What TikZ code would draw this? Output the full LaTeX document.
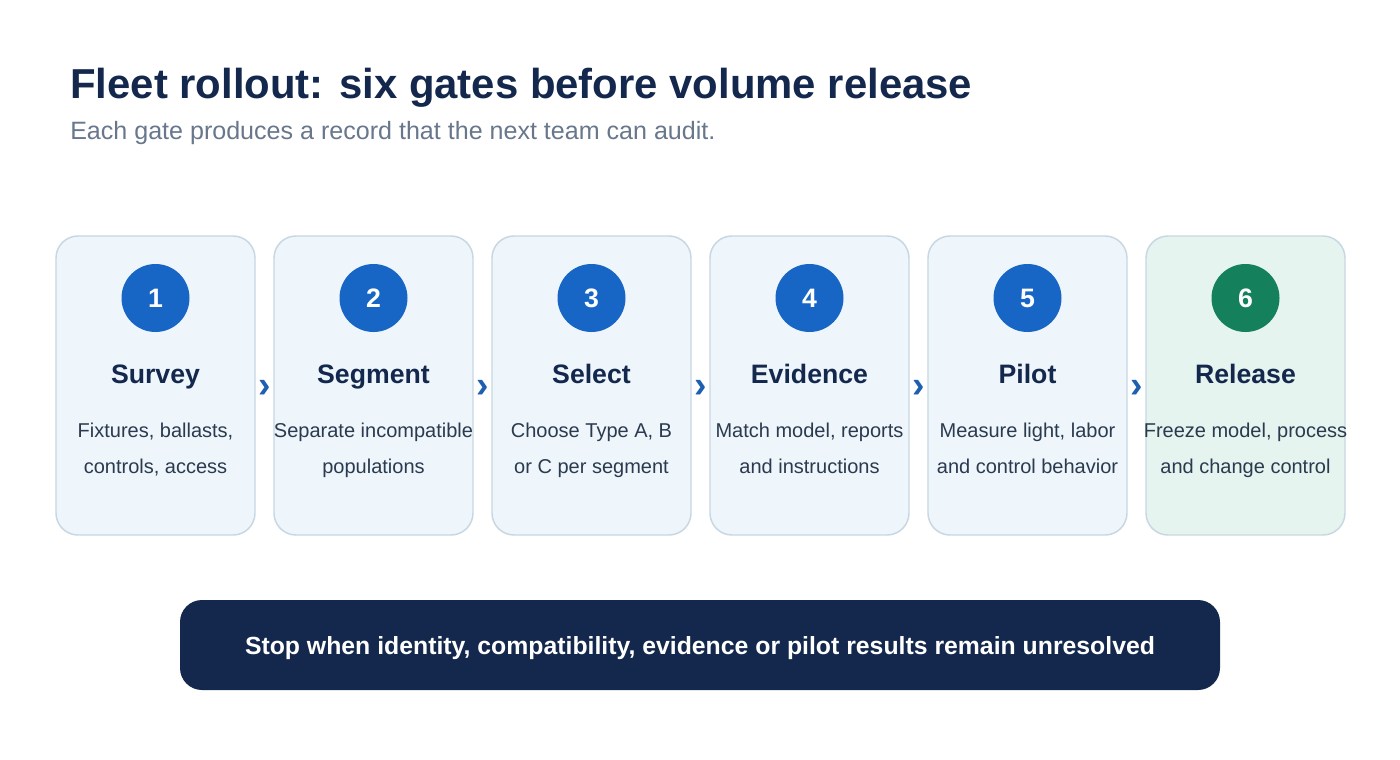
\documentclass[tikz,border=0pt]{standalone}
\usepackage{fontspec}
\setmainfont{Liberation Sans}
\definecolor{navy}{HTML}{13284C}
\definecolor{subgray}{HTML}{68778C}
\definecolor{bodytext}{HTML}{2A3A4F}
\definecolor{gatefill}{HTML}{EEF5FB}
\definecolor{gatedraw}{HTML}{C7D7E3}
\definecolor{relfill}{HTML}{E5F4EE}
\definecolor{numblue}{HTML}{1766C6}
\definecolor{numgreen}{HTML}{14805C}
\definecolor{chevblue}{HTML}{1F5FB0}
\tikzset{
  gate/.style={draw=gatedraw,fill=gatefill,line width=1.1pt,rounded corners=16.5pt,
    minimum width=149.25pt,minimum height=224.25pt,inner sep=0pt},
  num/.style={circle,fill=numblue,minimum size=51pt,inner sep=0pt,text=white,
    font=\bfseries\fontsize{20}{24}\selectfont},
  gtitle/.style={anchor=base,text=navy,inner sep=0pt,font=\bfseries\fontsize{20}{24}\selectfont},
  gtext/.style={anchor=base,text=bodytext,inner sep=0pt,font=\fontsize{15}{18}\selectfont},
  chev/.style={text=chevblue,inner sep=0pt,font=\bfseries\fontsize{28}{30}\selectfont},
}
\begin{document}
\begin{tikzpicture}[x=0.75pt,y=-0.75pt]
  \useasboundingbox[fill=white] (0,0) rectangle (1400,760);

  %% heading
  \node[anchor=base west,inner sep=0pt,text=navy,font=\bfseries\fontsize{31.4}{36}\selectfont]
    (head) at (70,98) {Fleet rollout: six gates before volume release};
  \node[anchor=base west,inner sep=0pt,text=subgray,font=\fontsize{18.8}{22}\selectfont]
    (sub) at (70,139) {Each gate produces a record that the next team can audit.};

  %% gate boxes
  \node[gate] (g1) at (155.5,385.5) {};
  \node[gate] (g2) at (373.5,385.5) {};
  \node[gate] (g3) at (591.5,385.5) {};
  \node[gate] (g4) at (809.5,385.5) {};
  \node[gate] (g5) at (1027.5,385.5) {};
  \node[gate,fill=relfill] (g6) at (1245.5,385.5) {};

  %% numbers
  \node[num] (n1) at (155.5,298) {1};
  \node[num] (n2) at (373.5,298) {2};
  \node[num] (n3) at (591.5,298) {3};
  \node[num] (n4) at (809.5,298) {4};
  \node[num] (n5) at (1027.5,298) {5};
  \node[num,fill=numgreen] (n6) at (1245.5,298) {6};

  %% gate names
  \node[gtitle] (t1) at (155.5,383) {Survey};
  \node[gtitle] (t2) at (373.5,383) {Segment};
  \node[gtitle] (t3) at (591.5,383) {Select};
  \node[gtitle] (t4) at (809.5,383) {Evidence};
  \node[gtitle] (t5) at (1027.5,383) {Pilot};
  \node[gtitle] (t6) at (1245.5,383) {Release};

  %% descriptions, first line
  \node[gtext] (d1a) at (155.5,437) {Fixtures, ballasts,};
  \node[gtext] (d2a) at (373.5,437) {Separate incompatible};
  \node[gtext] (d3a) at (591.5,437) {Choose Type A, B};
  \node[gtext] (d4a) at (809.5,437) {Match model, reports};
  \node[gtext] (d5a) at (1027.5,437) {Measure light, labor};
  \node[gtext] (d6a) at (1245.5,437) {Freeze model, process};

  %% descriptions, second line
  \node[gtext] (d1b) at (155.5,473) {controls, access};
  \node[gtext] (d2b) at (373.5,473) {populations};
  \node[gtext] (d3b) at (591.5,473) {or C per segment};
  \node[gtext] (d4b) at (809.5,473) {and instructions};
  \node[gtext] (d5b) at (1027.5,473) {and control behavior};
  \node[gtext] (d6b) at (1245.5,473) {and change control};

  %% chevrons between gates
  \node[chev] (c1) at (264.5,389) {›};
  \node[chev] (c2) at (482.5,389) {›};
  \node[chev] (c3) at (700.5,389) {›};
  \node[chev] (c4) at (918.5,389) {›};
  \node[chev] (c5) at (1136.5,389) {›};

  %% stop bar
  \node[fill=navy,rounded corners=16.5pt,minimum width=780pt,minimum height=67.5pt,
    inner sep=0pt] (stop) at (700,645) {};
  \node[anchor=base,inner sep=0pt,text=white,font=\bfseries\fontsize{18.6}{22}\selectfont]
    (stoptext) at (700,654) {Stop when identity, compatibility, evidence or pilot results remain unresolved};
\end{tikzpicture}
\end{document}
